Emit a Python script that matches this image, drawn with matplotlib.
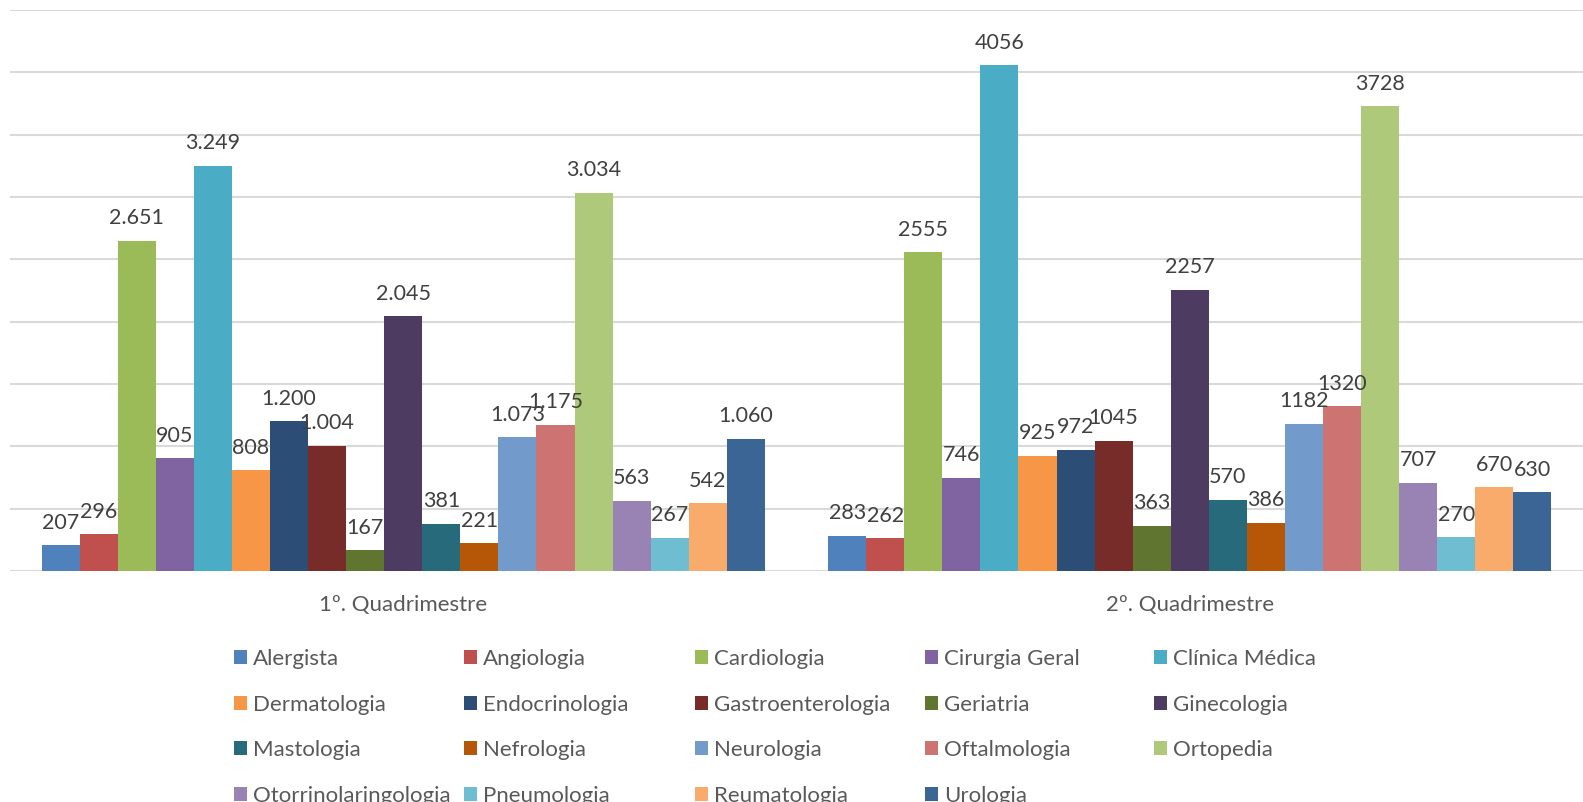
import matplotlib.pyplot as plt
import numpy as np
from matplotlib.patches import Patch

plt.rcParams['font.family'] = ['Lato', 'DejaVu Sans']

# Data
quadrimestres = ['1º. Quadrimestre', '2º. Quadrimestre']
especialidades = [
    'Alergista', 'Angiologia', 'Cardiologia', 'Cirurgia Geral', 'Clínica Médica',
    'Dermatologia', 'Endocrinologia', 'Gastroenterologia', 'Geriatria', 'Ginecologia',
    'Mastologia', 'Nefrologia', 'Neurologia', 'Oftalmologia', 'Ortopedia',
    'Otorrinolaringologia', 'Pneumologia', 'Reumatologia', 'Urologia',
]
q1 = [207, 296, 2651, 905, 3249, 808, 1200, 1004, 167, 2045,
      381, 221, 1073, 1175, 3034, 563, 267, 542, 1060]
q2 = [283, 262, 2555, 746, 4056, 925, 972, 1045, 363, 2257,
      570, 386, 1182, 1320, 3728, 707, 270, 670, 630]
# labels as printed on the chart (first period uses thousands separator)
q1_labels = ['207', '296', '2.651', '905', '3.249', '808', '1.200', '1.004', '167', '2.045',
             '381', '221', '1.073', '1.175', '3.034', '563', '267', '542', '1.060']
q2_labels = [str(v) for v in q2]

colors = [
    '#4F81BD', '#C0504D', '#9BBB59', '#8064A2', '#4BACC6',
    '#F79646', '#2C4D75', '#772C2A', '#5F7530', '#4D3B62',
    '#276A7C', '#B65708', '#729ACA', '#CD7371', '#AFC97A',
    '#9983B5', '#6FBDD1', '#F9AB6B', '#3A6594',
]

text_color = '#595959'
grid_color = '#D9D9D9'

fig = plt.figure(figsize=(15.83, 8.02), dpi=100)
ax = fig.add_axes([10 / 1583, 231 / 802, 1573 / 1583, 561 / 802])

n = len(especialidades)
w = 0.0484
x = np.arange(len(quadrimestres))
values = np.array([q1, q2])
labels = [q1_labels, q2_labels]

for i, esp in enumerate(especialidades):
    bars = ax.bar(x + (i - (n - 1) / 2) * w, values[:, i], width=w,
                  color=colors[i], label=esp, zorder=2)
    ax.bar_label(bars, labels=[labels[0][i], labels[1][i]], padding=9,
                 fontsize=15.5, color='#404040')

ax.set_xlim(-0.5, 1.5)
ax.set_ylim(0, 4500)
ax.set_yticks(np.arange(0, 4501, 500))
ax.yaxis.grid(True, color=grid_color, linewidth=1.5, zorder=0)
ax.set_yticklabels([])
ax.tick_params(axis='y', length=0)
ax.set_xticks(x)
ax.set_xticklabels(quadrimestres, fontsize=16, color=text_color)
ax.tick_params(axis='x', length=0, pad=17.5)
for s in ax.spines.values():
    s.set_visible(False)

# legend laid out in 5 equal columns like the original
handles = [Patch(facecolor=c) for c in colors]
col_x = [234, 464, 695, 925, 1154]
for c in range(5):
    idx = list(range(c, n, 5))
    leg = fig.legend([handles[k] for k in idx], [especialidades[k] for k in idx],
                     loc='upper left', bbox_to_anchor=(col_x[c] / 1583, 1 - 649 / 802),
                     frameon=False, fontsize=16, borderpad=0, borderaxespad=0,
                     handlelength=0.6, handleheight=0.6, handletextpad=0.25,
                     labelspacing=1.15)
    for t in leg.get_texts():
        t.set_color(text_color)

fig.savefig('out.png', dpi=100)
